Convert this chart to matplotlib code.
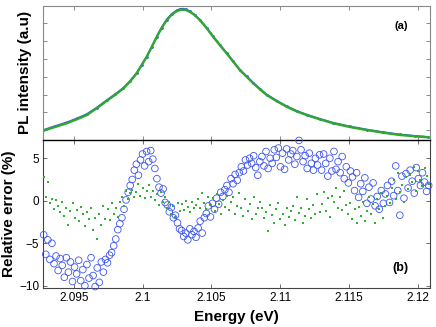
import numpy as np
from matplotlib import pyplot as plt

plt.rcParams['font.family'] = ['Liberation Sans', 'DejaVu Sans']

# spectrum (top panel)
fit_energy = [2.09277, 2.09362, 2.09447, 2.09520, 2.09592, 2.09665, 2.09738, 2.09798,
              2.09859, 2.09907, 2.09956, 2.09992, 2.10029, 2.10066, 2.10102, 2.10138,
              2.10174, 2.10211, 2.10247, 2.10270, 2.10291, 2.10315, 2.10344, 2.10380,
              2.10417, 2.10465, 2.10513, 2.10561, 2.10611, 2.10659, 2.10707, 2.10756,
              2.10804, 2.10853, 2.10902, 2.10974, 2.11047, 2.11120, 2.11193, 2.11289,
              2.11386, 2.11507, 2.11629, 2.11750, 2.11871, 2.11980, 2.12077]
fit_intensity = [0.96, 1.17, 1.38, 1.60, 1.84, 2.22, 2.64, 2.97,
                 3.34, 3.72, 4.19, 4.65, 5.12, 5.68, 6.24, 6.75,
                 7.18, 7.50, 7.69, 7.76, 7.78, 7.75, 7.65, 7.46,
                 7.18, 6.74, 6.24, 5.78, 5.31, 4.84, 4.37, 4.00,
                 3.63, 3.29, 2.97, 2.63, 2.31, 2.05, 1.84, 1.60,
                 1.38, 1.17, 1.00, 0.85, 0.72, 0.65, 0.59]
pl_data = [1.00, 1.22, 1.43, 1.65, 1.89, 2.26, 2.68, 3.01,
           3.37, 3.75, 4.21, 4.66, 5.13, 5.69, 6.25, 6.77,
           7.21, 7.54, 7.73, 7.81, 7.83, 7.79, 7.68, 7.48,
           7.20, 6.76, 6.27, 5.81, 5.34, 4.87, 4.40, 4.03,
           3.66, 3.32, 3.00, 2.66, 2.34, 2.08, 1.87, 1.63,
           1.41, 1.20, 1.03, 0.88, 0.75, 0.67, 0.61]

# relative errors (bottom panel), uniform energy grid
err_start, err_stop = 2.0928, 2.1208
err_blue = [-4.0, -6.3, -4.6, -6.9, -5.0, -7.4, -6.5, -8.2, -6.8,
            -7.6, -9.0, -6.7, -8.4, -7.2, -9.5, -7.8,
            -8.6, -7.0, -9.4, -8.1, -10.0, -7.5, -9.1, -6.7,
            -8.8, -10.1, -7.9, -9.6, -7.2, -8.4, -6.9,
            -7.3, -6.4, -6.1, -5.3, -4.5, -3.4, -2.7, -2.0, -1.0,
            0.1, 1.0, 1.8, 2.5, 3.6, 4.3, 3.0, 4.8, 5.5, 4.1,
            5.8, 4.6, 5.9, 4.9, 3.8, 2.6, 1.6, 0.9, 1.4, -0.2,
            -0.5, -1.3, -0.8, -2.0, -1.7, -2.6, -3.3,
            -3.5, -4.2, -3.8, -4.6, -3.3, -4.0, -3.6, -4.3,
            -3.2, -2.4, -3.8, -2.0, -1.5, -0.6, -1.9, -0.3, -1.0,
            0.3, -0.4, 1.0, 0.5, 1.3, 1.8, 1.0, 2.6, 2.0, 3.1, 2.4,
            3.3, 4.0, 3.5, 4.8, 4.2, 5.0, 4.4, 5.3, 3.9, 3.0, 4.6,
            5.2, 4.1, 5.8, 3.8, 5.0, 4.4, 6.0,
            5.1, 6.2, 4.0, 5.6, 3.7, 6.1, 4.8, 5.5,
            5.9, 4.3, 5.2, 7.1, 6.0, 4.6, 5.3,
            3.8, 5.6, 4.4, 3.6, 5.0, 4.2, 5.4,
            3.6, 5.5, 4.4, 2.9, 5.0, 3.5, 5.8, 3.7, 4.6, 3.3,
            5.2, 2.6, 4.0, 2.1, 3.5, 2.8, 1.2, 3.3, 0.4, 2.0,
            1.1, 2.7, -0.3, 1.6, 0.2, 2.1, -0.6, 0.5, -1.0, 1.2, -0.3, 0.8,
            1.8, -0.2, 2.3, 0.6, 4.1, 1.2, -1.7, 2.9, 0.3, 3.2,
            1.5, 3.6, 2.3, 0.9, 3.9, 2.6, 1.8, 3.3, 2.2, 1.1, 1.8]
err_green = [2.8, 0.4, 2.2, -0.3, 0.2, -1.0, 0.1, -0.6, -1.3,
             -0.2, -1.8, -0.8, -2.8, -1.2, -0.3, -2.0,
             -1.1, -2.4, -0.7, -1.6, -3.0, -1.3, -2.2, -0.9,
             -3.4, -2.0, -4.5, -1.5, -2.8, -0.6, -2.1,
             -1.0, -2.3, -0.3, -1.6, -0.8, -1.9, -0.2,
             0.5, -0.6, 1.2, 0.2, 0.9, 1.3, 0.4,
             1.0, 2.0, 0.6, 1.5, 0.3, 1.1, 1.8, 0.5,
             1.2, 0.1, 0.8, -0.5, 1.0, -0.2, 0.5,
             -0.8, -0.1, -1.5, -0.6, -1.9, -0.3, -1.2,
             -0.4, -1.1, 0.0, -0.7, -1.3, -0.2, -0.9, -0.5,
             0.2, -0.8, 0.9, -0.3, -1.0, 0.5, -0.5,
             0.3, -1.2, 0.8, -0.4, -1.6, 0.1, -0.7, 0.6, -1.1, -0.2, 0.4, -1.5, -0.6,
             0.9, -0.8, -1.8, 0.2, -1.2, -0.4, -2.2, 0.5, -1.5, -0.9, -0.1,
             -0.8, -2.0, -1.3, -3.5, -0.5, -1.7, -2.6, -1.0, -0.3, -2.2, -1.5, -2.9, -0.8, -1.9, -1.2,
             -0.6, -2.3, 0.5, -1.4, -0.9, -2.6, -1.8, 0.2, -1.0, -2.0, -0.5, -1.6, 0.8, -1.3,
             -0.4, 1.0, -1.2, 0.3, -1.9, 0.6,
             -0.2, 1.5, -0.8, 0.4, -1.1, 1.2, -0.5,
             -1.5, -0.3, -2.1, -1.0, -2.6, -0.7, -1.8, -0.1, -2.4, -1.2,
             0.5, -1.6, -0.4, -2.6, 0.2, -1.0, 0.9, -2.0, -0.6,
             0.6, -0.3, 1.5, 2.4, 0.2, 3.3, 1.0, 1.9, -0.2, 2.8,
             1.4, 3.0, 2.2, 4.0, 1.1, 3.5, 2.5, 1.7, 3.8, 2.9, 2.0]

x_ticks = [2.095, 2.1, 2.105, 2.11, 2.115, 2.12]
x_ticklabels = ['2.095', '2.1', '2.105', '2.11', '2.115', '2.12']

BLUE = '#3d55f2'
GREEN = '#33b033'
XLIM = (2.09277, 2.12089)

fig = plt.figure(figsize=(4.36, 3.27), dpi=100)
ax1 = fig.add_axes([0.0993, 0.5719, 0.8867, 0.4107])
ax2 = fig.add_axes([0.0993, 0.1183, 0.8867, 0.4536])

# top panel: measured spectrum + fit
ax1.plot(fit_energy, pl_data, color=BLUE, lw=1.3, marker='.', ms=2)
ax1.plot(fit_energy, fit_intensity, color='#2ea82e', lw=1.7)
ax1.set_xlim(XLIM)
ax1.set_ylim(0.44, 8.0)
ax1.set_xticks(x_ticks)
ax1.set_yticks(range(1, 8))
ax1.tick_params(direction='in', length=3, width=0.6, colors='#777777',
                top=True, right=True, labelbottom=False, labelleft=False)
for side in ('top', 'left', 'right'):
    ax1.spines[side].set_color('#888888')
    ax1.spines[side].set_linewidth(0.8)
ax1.spines['bottom'].set_visible(False)
ax1.set_ylabel('PL intensity (a.u)', fontsize=11, fontweight='bold', labelpad=8)
ax1.text(0.925, 0.85, '(a)', transform=ax1.transAxes, fontsize=8,
         fontweight='bold', ha='center', va='center')

# bottom panel: relative errors of the two models
e_blue = np.linspace(err_start, err_stop, len(err_blue))
e_green = np.linspace(err_start, err_stop, len(err_green))
ax2.scatter(e_blue, err_blue, s=23, facecolors='none', edgecolors=BLUE,
            linewidths=0.6, clip_on=False, zorder=3)
ax2.scatter(e_green, err_green, s=3.2, marker='s', color=GREEN, linewidths=0, zorder=4)
ax2.set_xlim(XLIM)
ax2.set_ylim(-10.3, 7.15)
ax2.set_xticks(x_ticks, x_ticklabels)
ax2.set_yticks([-10, -5, 0, 5])
ax2.tick_params(direction='in', length=3, width=0.6, labelsize=8.5,
                top=True, right=True, pad=3, colors='#555555', labelcolor='black')
for side in ('bottom', 'left', 'right'):
    ax2.spines[side].set_color('#444444')
    ax2.spines[side].set_linewidth(0.8)
ax2.spines['top'].set_color('black')
ax2.spines['top'].set_linewidth(1.0)
ax2.set_xlabel('Energy (eV)', fontsize=11, fontweight='bold', labelpad=4)
ax2.set_ylabel('Relative error (%)', fontsize=11, fontweight='bold', labelpad=2)
ax2.text(0.925, 0.14, '(b)', transform=ax2.transAxes, fontsize=9,
         fontweight='bold', ha='center', va='center')

fig.align_ylabels([ax1, ax2])
fig.savefig('out.png', dpi=100)
